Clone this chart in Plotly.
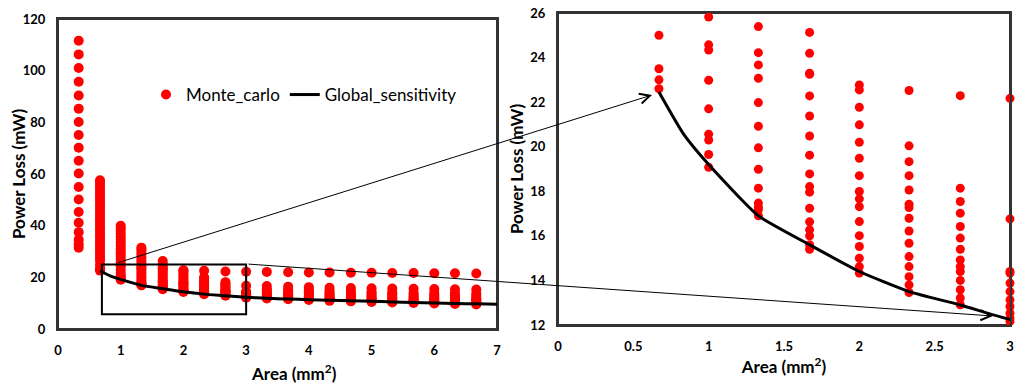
import plotly.graph_objects as go

# ---------------- data ----------------
area_cols = [0.33, 0.67, 1.0, 1.33, 1.67, 2.0, 2.33, 2.67, 3.0, 3.33,
             3.67, 4.0, 4.33, 4.67, 5.0, 5.33, 5.67, 6.0, 6.33, 6.67]

p_033 = [111.6, 106.3, 101.0, 95.7, 90.4, 85.3, 80.1, 75.1, 70.2, 65.1, 60.2,
         55.0, 50.1, 45.3, 41.1, 37.5, 34.5, 32.8, 31.5]
p_067 = [22.6, 23.0, 23.5, 25.0, 26.6, 27.8, 29.0, 30.2, 31.4, 32.6, 33.8, 35.0,
         36.2, 37.4, 38.6, 39.8, 41.0, 42.2, 43.4, 44.6, 45.8, 47.0, 48.2, 49.4,
         50.6, 51.8, 53.0, 54.2, 55.4, 56.6, 57.6]
p_100 = [19.08, 19.65, 20.3, 20.56, 21.7, 22.98, 24.34, 24.57, 25.82, 26.9, 28.0,
         29.1, 30.2, 31.3, 32.4, 33.5, 34.6, 35.7, 36.8, 37.9, 39.0, 40.0]
p_133 = [16.9, 17.17, 17.3, 17.47, 18.14, 18.99, 19.95, 20.92, 21.98, 23.07,
         23.67, 24.22, 25.39, 26.5, 27.6, 28.7, 29.8, 30.9, 31.5]
p_167 = [15.4, 15.6, 16.0, 16.27, 16.63, 17.24, 17.96, 18.21, 18.78, 19.62,
         20.48, 21.38, 22.28, 23.25, 23.3, 24.19, 25.13, 26.3]
p_200 = [14.33, 14.62, 15.0, 15.52, 16.01, 16.64, 17.31, 17.66, 17.99, 18.70,
         19.48, 20.20, 20.98, 21.77, 22.55, 22.77]
p_233 = [13.46, 13.80, 14.17, 14.62, 15.07, 15.67, 16.22, 16.79, 17.27, 17.42,
         18.06, 18.70, 19.33, 20.04, 22.52]
p_267 = [12.91, 13.21, 13.58, 14.0, 14.40, 14.62, 14.92, 15.40, 15.90, 16.42,
         17.02, 17.54, 18.14, 22.29]
p_300 = [12.16, 12.31, 12.53, 12.83, 13.13, 13.50, 13.88, 14.33, 14.4, 16.76, 22.17]
p_333 = [22.1, 16.6, 15.5, 14.9, 14.3, 13.8, 13.3, 12.9, 12.5, 12.1, 11.8]
p_367 = [22.0, 16.4, 15.2, 14.6, 14.0, 13.5, 13.0, 12.6, 12.2, 11.8, 11.5]
p_400 = [21.9, 16.2, 15.0, 14.4, 13.8, 13.2, 12.7, 12.3, 11.9, 11.5, 11.2]
p_433 = [21.9, 16.0, 14.8, 14.1, 13.5, 12.9, 12.4, 12.0, 11.6, 11.2, 10.9]
p_467 = [21.8, 15.9, 14.6, 13.9, 13.2, 12.6, 12.1, 11.7, 11.3, 11.0, 10.7]
p_500 = [21.8, 15.8, 14.4, 13.7, 13.0, 12.4, 11.9, 11.5, 11.1, 10.8, 10.5]
p_533 = [21.7, 15.7, 14.2, 13.5, 12.8, 12.2, 11.7, 11.2, 10.9, 10.6, 10.3]
p_567 = [21.7, 15.6, 14.0, 13.3, 12.6, 12.0, 11.5, 11.0, 10.7, 10.4, 10.1]
p_600 = [21.6, 15.5, 13.9, 13.1, 12.4, 11.8, 11.3, 10.8, 10.5, 10.2, 9.9]
p_633 = [21.6, 15.4, 13.8, 13.0, 12.3, 11.6, 11.1, 10.6, 10.3, 10.0, 9.7]
p_667 = [21.5, 15.3, 13.7, 12.9, 12.1, 11.5, 10.9, 10.5, 10.1, 9.8, 9.5]

gs_area = [0.67, 0.83, 1.0, 1.33, 1.67, 2.0, 2.33, 2.67, 3.0, 3.33, 3.67, 4.0,
           4.33, 4.67, 5.0, 5.33, 5.67, 6.0, 6.33, 6.67, 7.0]
gs_power = [22.45, 20.6, 19.2, 16.9, 15.6, 14.4, 13.5, 12.9, 12.25, 11.9, 11.6,
            11.35, 11.1, 10.9, 10.7, 10.5, 10.3, 10.1, 9.9, 9.75, 9.6]

x_ticks_left = [0, 1, 2, 3, 4, 5, 6, 7]
y_ticks_left = [0, 20, 40, 60, 80, 100, 120]
x_ticks_right = [0, 0.5, 1, 1.5, 2, 2.5, 3]
y_ticks_right = [12, 14, 16, 18, 20, 22, 24, 26]

columns = [p_033, p_067, p_100, p_133, p_167, p_200, p_233, p_267, p_300, p_333,
           p_367, p_400, p_433, p_467, p_500, p_533, p_567, p_600, p_633, p_667]

mc_x, mc_y = [], []
for a, col in zip(area_cols, columns):
    for v in col:
        mc_x.append(a)
        mc_y.append(v)

# points visible in the zoomed panel
zx, zy = [], []
for a, v in zip(mc_x, mc_y):
    if a <= 3.01 and 12 <= v <= 26.1:
        zx.append(a)
        zy.append(v)

# page has an 8px body margin: figure sits at (8, 8) in the window
OFF = 8
W, H = 1024 - OFF, 391 - OFF


def px(x):
    return (x - OFF) / W


def py(y):
    return (H - (y - OFF)) / H


FONT = "Lato, 'Open Sans', sans-serif"
RED = "#ff0000"
AX = "#333333"

fig = go.Figure()

fig.add_trace(go.Scatter(x=mc_x, y=mc_y, mode="markers", name="Monte_carlo",
                         marker=dict(color=RED, size=10, line=dict(width=0)),
                         xaxis="x", yaxis="y"))
fig.add_trace(go.Scatter(x=gs_area, y=gs_power, mode="lines", name="Global_sensitivity",
                         line=dict(color="black", width=3, shape="spline", smoothing=0.5),
                         xaxis="x", yaxis="y"))
fig.add_trace(go.Scatter(x=zx, y=zy, mode="markers", showlegend=False,
                         marker=dict(color=RED, size=9, line=dict(width=0)),
                         cliponaxis=False, xaxis="x2", yaxis="y2"))
fig.add_trace(go.Scatter(x=gs_area, y=gs_power, mode="lines", showlegend=False,
                         line=dict(color="black", width=3, shape="spline", smoothing=0.5),
                         xaxis="x2", yaxis="y2"))

tickfont = dict(family=FONT, size=13, color="black", weight="bold")
titlefont = dict(family=FONT, size=17, color="black", weight="bold")

axis_common = dict(showgrid=False, zeroline=False, showline=True, linecolor=AX,
                   linewidth=2, mirror=True, ticks="outside", ticklen=8,
                   tickcolor="rgba(0,0,0,0)", tickfont=tickfont, automargin=False,
                   ticklabeloverflow="allow")

fig.update_layout(
    template="none",
    width=W, height=H,
    margin=dict(l=0, r=0, t=0, b=0),
    paper_bgcolor="white", plot_bgcolor="white",
    xaxis=dict(domain=[px(58), px(497)], range=[0, 7], tickvals=x_ticks_left,
               anchor="y", **axis_common),
    yaxis=dict(domain=[py(329), py(19)], range=[0, 120],
               tickvals=y_ticks_left,
               title=dict(text="Power Loss (mW)", font=titlefont, standoff=2),
               anchor="x", **axis_common),
    xaxis2=dict(domain=[px(558), px(1010)], range=[0, 3], tickvals=x_ticks_right,
                title=dict(text="Area (mm<sup>2</sup>)", font=titlefont, standoff=2),
                anchor="y2", **axis_common),
    yaxis2=dict(domain=[py(325), py(13)], range=[12, 26],
                tickvals=y_ticks_right,
                title=dict(text="Power Loss (mW)", font=titlefont, standoff=2),
                anchor="x2", **axis_common),
    legend=dict(orientation="h", x=px(146), y=py(95), xanchor="left",
                yanchor="middle", bgcolor="rgba(0,0,0,0)",
                font=dict(family=FONT, size=17, color="black"),
                itemwidth=30, tracegroupgap=0),
    showlegend=True,
)

# left x-axis title (offset to the right as in the reference)
fig.add_annotation(x=px(294), y=py(372), xref="paper", yref="paper",
                   text="Area (mm<sup>2</sup>)", showarrow=False,
                   font=titlefont, xanchor="center", yanchor="middle")

# plot-area frames
for xr, yr in (("x domain", "y domain"), ("x2 domain", "y2 domain")):
    fig.add_shape(type="rect", xref=xr, yref=yr, x0=0, x1=1, y0=0, y1=1,
                  line=dict(color=AX, width=2), fillcolor="rgba(0,0,0,0)",
                  layer="below")

# zoom rectangle in left panel
fig.add_shape(type="rect", xref="x", yref="y", x0=0.7, x1=3.0, y0=5.7, y1=25,
              line=dict(color="black", width=2), fillcolor="rgba(0,0,0,0)")

# connecting arrows (window pixel geometry)
arrows = [((117, 263), (652, 95)), ((247, 264), (993, 316))]
for (tx, ty), (hx, hy) in arrows:
    fig.add_annotation(x=px(hx), y=py(hy), xref="paper", yref="paper",
                       ax=tx - hx, ay=ty - hy, axref="pixel", ayref="pixel",
                       showarrow=True, arrowhead=5, arrowsize=2, arrowwidth=1,
                       arrowcolor="black", text="")

fig.write_html("out.html")
